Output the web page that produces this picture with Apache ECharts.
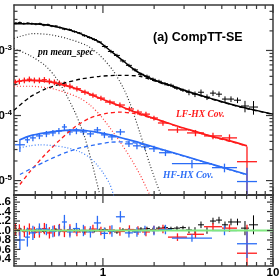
<!DOCTYPE html>
<html><head><meta charset="utf-8">
<script src="https://cdn.jsdelivr.net/npm/echarts@6/dist/echarts.min.js"></script>
<style>html,body{margin:0;padding:0;background:#fff}#c{width:280px;height:280px}</style>
</head><body><div id="c"></div>
<script>
// ---------- tick values ----------
const xMajorTicks = [1, 10];
const xMinorTicks = [0.4,0.5,0.6,0.7,0.8,0.9,2,3,4,5,6,7,8,9];
const yMajorTicks = [1e-5,1e-4,1e-3];
const yMinorTicks = [7e-6,8e-6,9e-6,2e-5,3e-5,4e-5,5e-5,6e-5,7e-5,8e-5,9e-5,2e-4,3e-4,4e-4,5e-4,6e-4,7e-4,8e-4,9e-4,2e-3,3e-3,4e-3];
const rMajorTicks = [0.4,0.6,0.8,1.0,1.2,1.4,1.6];
const rMinorTicks = [0.3,0.35,0.45,0.5,0.55,0.65,0.7,0.75,0.85,0.9,0.95,1.05,1.1,1.15,1.25,1.3,1.35,1.45,1.5,1.55,1.65,1.7];

// ---------- pn mean_spec (black) ----------
const blackEdges = [0.30,0.3162,0.3337,0.3524,0.3720,0.3927,0.4146,0.4377,0.4621,0.4878,0.5150,0.5436,0.5739,0.6141,0.6570,0.7031,0.7523,0.8052,0.8616,0.9220,0.9866,1.070,1.161,1.259,1.366,1.481,1.607,1.743,1.890,2.050,2.224,2.412,2.616,2.838,3.078,3.339,3.622,3.928,4.261,4.622,5.012,5.437,5.897,6.484,7.225,8.162];
const blackFlux = [2.63e-3,2.68e-3,2.58e-3,2.63e-3,2.58e-3,2.54e-3,2.58e-3,2.45e-3,2.49e-3,2.37e-3,2.37e-3,2.25e-3,2.13e-3,2.09e-3,1.95e-3,1.85e-3,1.69e-3,1.58e-3,1.47e-3,1.35e-3,1.15e-3,9.65e-4,8.39e-4,6.91e-4,5.90e-4,5.04e-4,4.30e-4,4.01e-4,3.61e-4,3.36e-4,3.08e-4,2.92e-4,2.63e-4,2.45e-4,2.28e-4,2.13e-4,2.28e-4,1.92e-4,2.21e-4,2.13e-4,1.79e-4,1.79e-4,1.72e-4,1.40e-4,1.35e-4];
const blackErr = [1.1e-4,1.1e-4,1.0e-4,1.0e-4,1.0e-4,1.0e-4,1.0e-4,1.0e-4,1.0e-4,9e-5,9e-5,9e-5,8e-5,8e-5,8e-5,7e-5,7e-5,6e-5,6e-5,5e-5,7e-5,6e-5,5e-5,4e-5,3.5e-5,3e-5,2.6e-5,2.4e-5,2.2e-5,2e-5,1.8e-5,1.8e-5,1.6e-5,1.5e-5,2.3e-5,2.1e-5,2.3e-5,1.9e-5,2.2e-5,2.1e-5,1.8e-5,1.8e-5,1.7e-5,2.8e-5,3.2e-5];
const blackRatio = [1.02,1.03,0.99,1.01,1.00,1.00,1.02,0.98,1.01,1.00,1.02,0.99,0.98,1.01,1.00,1.00,0.97,1.00,0.99,1.01,1.02,0.98,0.97,1.01,1.00,0.99,1.03,1.04,1.02,1.05,1.06,1.04,1.05,1.06,1.01,1.00,1.12,1.00,1.20,1.22,1.12,1.18,1.18,1.05,1.12];
const blackRatioErr = [0.03,0.03,0.03,0.03,0.03,0.03,0.03,0.03,0.03,0.03,0.03,0.03,0.03,0.03,0.03,0.03,0.03,0.03,0.03,0.03,0.04,0.04,0.04,0.04,0.04,0.04,0.04,0.04,0.04,0.04,0.04,0.04,0.04,0.04,0.07,0.07,0.07,0.07,0.07,0.07,0.07,0.07,0.07,0.15,0.2];
const blackTotal = [[0.30,2.58e-3],[0.372,2.58e-3],[0.456,2.49e-3],[0.559,2.25e-3],[0.684,1.95e-3],[0.839,1.58e-3],[0.960,1.33e-3],[1.10,1.0e-3],[1.26,7.55e-4],[1.44,5.70e-4],[1.65,4.46e-4],[2.02,3.48e-4],[2.48,2.92e-4],[3.25,2.28e-4],[4.26,1.85e-4],[5.59,1.50e-4],[7.32,1.26e-4],[10,1.05e-4]];
const blackComp = [[0.30,1.21e-4],[0.372,1.92e-4],[0.456,2.54e-4],[0.559,3.03e-4],[0.732,3.61e-4],[0.960,4.01e-4],[1.26,4.15e-4],[1.65,4.01e-4],[2.16,3.19e-4],[2.84,2.54e-4],[4.26,1.82e-4],[6.40,1.35e-4],[10,1.04e-4]];
const blackSoft1 = [[0.30,1.53e-3],[0.325,1.64e-3],[0.388,1.82e-3],[0.488,1.75e-3],[0.614,1.53e-3],[0.805,1.19e-3],[0.960,8.39e-4],[1.145,4.95e-4],[1.311,2.72e-4],[1.442,1.55e-4],[1.651,5.40e-5],[1.890,1.75e-5],[2.078,8.7e-6],[2.224,5.5e-6]];
const blackSoft2 = [[0.30,1.07e-3],[0.372,8.39e-4],[0.456,5.90e-4],[0.522,4.01e-4],[0.598,2.28e-4],[0.684,1.13e-4],[0.732,7.42e-5],[0.784,4.53e-5],[0.873,1.64e-5],[0.960,5.9e-6]];

// ---------- LF-HX Cov. (red) ----------
const redEdges = [0.30,0.3119,0.3337,0.3571,0.3823,0.4091,0.4377,0.4683,0.5012,0.5363,0.5739,0.6141,0.6661,0.7424,0.8274,0.9220,1.0275,1.1764,1.3468,1.5219,1.6960,1.890,2.1062,2.412,3.120,3.928,5.012,6.142,8.051];
const redFlux = [3.25e-4,3.36e-4,3.48e-4,3.61e-4,3.48e-4,3.48e-4,3.55e-4,3.36e-4,3.25e-4,3.14e-4,3.03e-4,2.82e-4,2.58e-4,2.28e-4,2.06e-4,1.85e-4,1.61e-4,1.45e-4,1.26e-4,1.13e-4,1.05e-4,9.16e-5,7.68e-5,6.01e-5,5.40e-5,4.86e-5,4.53e-5,1.95e-5];
const redErr = [3.3e-5,3.4e-5,3.5e-5,3.6e-5,3.5e-5,3.5e-5,3.5e-5,3.4e-5,3.2e-5,3.1e-5,3.0e-5,2.8e-5,2.3e-5,2.0e-5,1.8e-5,1.6e-5,1.4e-5,1.3e-5,1.1e-5,1.0e-5,9e-6,8e-6,7e-6,6e-6,6e-6,5.5e-6,6e-6,1.4e-5];
const redRatio = [1.02,1.01,0.98,1.03,0.96,0.97,1.04,0.95,0.99,1.02,0.98,1.01,0.97,1.00,1.03,0.99,1.01,0.98,1.02,1.00,0.97,1.01,1.03,0.86,0.92,1.08,1.05,0.52];
const redRatioErr = [0.12,0.12,0.12,0.12,0.12,0.12,0.12,0.12,0.12,0.12,0.12,0.12,0.09,0.09,0.09,0.09,0.09,0.09,0.09,0.09,0.09,0.09,0.09,0.08,0.08,0.08,0.08,0.6];
const redTotal = [[0.30,3.25e-4],[0.334,3.42e-4],[0.372,3.48e-4],[0.426,3.42e-4],[0.488,3.30e-4],[0.559,3.03e-4],[0.684,2.63e-4],[0.839,2.13e-4],[1.03,1.72e-4],[1.26,1.40e-4],[1.54,1.13e-4],[1.89,9.49e-5],[2.32,7.96e-5],[2.84,6.67e-5],[3.48,5.70e-5],[4.26,4.86e-5],[5.59,4.08e-5],[7.03,3.42e-5]];
const redComp = [[0.325,8.7e-6],[0.372,1.37e-5],[0.456,2.49e-5],[0.559,4.23e-5],[0.684,6.67e-5],[0.839,9.16e-5],[1.03,1.07e-4],[1.26,1.13e-4],[1.54,1.07e-4],[1.89,9.32e-5],[2.32,7.87e-5],[2.84,6.60e-5],[4.26,4.83e-5],[7.03,3.40e-5]];
const redSoft = [[0.30,2.82e-4],[0.372,2.82e-4],[0.488,2.63e-4],[0.598,2.28e-4],[0.732,1.85e-4],[0.839,1.45e-4],[0.960,1.02e-4],[1.10,6.45e-5],[1.26,3.94e-5],[1.44,2.32e-5],[1.65,1.24e-5],[1.82,7.3e-6],[1.92,5.5e-6]];

// ---------- HF-HX Cov. (blue) ----------
const blueEdges = [0.3037,0.3476,0.3720,0.4036,0.4437,0.4878,0.5291,0.5739,0.6141,0.6661,0.7323,0.8052,0.8852,0.9732,1.070,1.1926,1.3468,1.5014,1.6735,1.8646,2.1354,2.5453,4.3776,6.1416,8.0514];
const blueFlux = [3.55e-5,4.23e-5,4.53e-5,4.86e-5,5.22e-5,5.40e-5,5.80e-5,6.67e-5,5.60e-5,5.80e-5,5.60e-5,5.22e-5,6.01e-5,5.04e-5,4.70e-5,5.60e-5,3.67e-5,3.42e-5,3.30e-5,3.08e-5,2.68e-5,1.82e-5,1.58e-5,9.66e-6];
const blueErr = [8e-6,4.6e-6,5e-6,5.3e-6,5.7e-6,5.9e-6,6.4e-6,7.3e-6,6.2e-6,6.4e-6,6.2e-6,5.7e-6,6.6e-6,5.5e-6,5.2e-6,6.2e-6,4e-6,3.8e-6,3.6e-6,3.4e-6,3e-6,2.7e-6,2.4e-6,6.1e-6];
const blueRatio = [0.80,0.86,0.95,1.03,1.02,0.98,1.00,1.18,0.97,1.04,1.00,0.97,1.16,0.94,0.99,1.29,0.95,0.97,1.00,1.00,1.02,0.84,1.00,0.72];
const blueRatioErr = [0.21,0.2,0.15,0.12,0.12,0.12,0.12,0.15,0.12,0.12,0.12,0.12,0.15,0.12,0.12,0.12,0.1,0.1,0.1,0.1,0.1,0.08,0.1,0.3];
const blueTotal = [[0.325,4.23e-5],[0.372,4.86e-5],[0.456,5.40e-5],[0.559,5.80e-5],[0.703,6.01e-5],[0.897,5.60e-5],[1.10,5.04e-5],[1.35,4.38e-5],[1.65,3.80e-5],[2.16,3.08e-5],[3.12,2.32e-5],[4.88,1.64e-5],[7.03,1.24e-5]];
const blueComp = [[0.325,1.24e-5],[0.388,1.58e-5],[0.456,1.95e-5],[0.559,2.49e-5],[0.703,3.08e-5],[0.897,3.55e-5],[1.10,3.87e-5],[1.35,3.94e-5],[1.65,3.67e-5],[2.16,3.03e-5],[3.12,2.30e-5],[4.88,1.62e-5],[7.03,1.22e-5]];
const blueSoft = [[0.325,3.19e-5],[0.372,3.42e-5],[0.426,3.55e-5],[0.522,3.42e-5],[0.614,3.19e-5],[0.732,2.77e-5],[0.839,2.24e-5],[0.922,1.75e-5],[1.0,1.33e-5],[1.10,8.7e-6],[1.16,5.7e-6]];

const unityLine = [[0.3,1],[10,1]];

// ---------- colours ----------
const BLACK='#000000', GREY='#333333', RED='#ff1a1a', REDL='#ff3838', BLUE='#2b6cf6', BLUEL='#3f7ff8', GREEN='#80e880', FRAME='#3a3a3a';

function clamp(v,a,b){return Math.max(a,Math.min(b,v));}

function crossSeries(edges, vals, errs, color, lw, xi, yi, isLog) {
  return {
    type:'custom', xAxisIndex:xi, yAxisIndex:yi, silent:true, z:2, animation:false,
    data: vals.map((v,i)=>[edges[i], edges[i+1], v, errs[i]]),
    encode:{x:[0,1], y:2},
    renderItem:(params, api)=>{
      const cs=params.coordSys;
      const lo=api.value(0), hi=api.value(1), v=api.value(2), e=api.value(3);
      const a=api.coord([lo,v]), b=api.coord([hi,v]);
      const x1=clamp(a[0],cs.x,cs.x+cs.width), x2=clamp(b[0],cs.x,cs.x+cs.width);
      const xc=(a[0]+b[0])/2;
      const yTop=clamp(api.coord([lo,v+e])[1],cs.y,cs.y+cs.height);
      const lowV=v-e;
      let yBot=(isLog && lowV<=0)? cs.y+cs.height : api.coord([lo,lowV])[1];
      yBot=clamp(yBot,cs.y,cs.y+cs.height);
      const yc=a[1];
      const st={stroke:color, lineWidth:lw};
      const ch=[{type:'line',shape:{x1:xc,y1:yTop,x2:xc,y2:yBot},style:st}];
      if (yc>=cs.y && yc<=cs.y+cs.height) ch.push({type:'line',shape:{x1:x1,y1:yc,x2:x2,y2:yc},style:st});
      return {type:'group',children:ch};
    }
  };
}

function modelLine(data, color, type, width, xi, yi, z) {
  return {type:'line', xAxisIndex:xi, yAxisIndex:yi, data:data, symbol:'none', smooth:0.25, clip:true,
    silent:true, animation:false, z:z||3, lineStyle:{color:color, width:width, type:type}};
}

function tickSeries(values, dir, len, xi, yi, ref) {
  return {
    type:'custom', xAxisIndex:xi, yAxisIndex:yi, silent:true, z:6, animation:false,
    data: values.map(v => dir==='x' ? [v, ref] : [ref, v]),
    encode:{x:0, y:1},
    renderItem:(params, api)=>{
      const cs=params.coordSys;
      const p=api.coord([api.value(0), api.value(1)]);
      const st={stroke:FRAME, lineWidth:1.2};
      if (dir==='x') {
        return {type:'group',children:[
          {type:'line',shape:{x1:p[0],y1:cs.y,x2:p[0],y2:cs.y+len},style:st},
          {type:'line',shape:{x1:p[0],y1:cs.y+cs.height,x2:p[0],y2:cs.y+cs.height-len},style:st}]};
      }
      return {type:'group',children:[
        {type:'line',shape:{x1:cs.x,y1:p[1],x2:cs.x+len,y2:p[1]},style:st},
        {type:'line',shape:{x1:cs.x+cs.width,y1:p[1],x2:cs.x+cs.width-len,y2:p[1]},style:st}]};
    }
  };
}

const LBL = {fontFamily:'Liberation Sans', fontWeight:'bold', fontSize:11.5, color:'#000'};
function axisLineCfg(w){return {show:true, onZero:false, lineStyle:{color:FRAME, width:w}};}
const noTick={show:false};

const option = {
  animation:false,
  backgroundColor:'#ffffff',
  grid:[
    {left:14, top:5, right:7, height:190, containLabel:false, outerBoundsMode:'none'},
    {left:14, top:195, right:7, height:71, containLabel:false, outerBoundsMode:'none'}
  ],
  xAxis:[
    {gridIndex:0, type:'log', min:0.3, max:10, position:'bottom', axisLine:axisLineCfg(2), axisTick:noTick, axisLabel:{show:false}, splitLine:{show:false}},
    {gridIndex:0, type:'log', min:0.3, max:10, position:'top', axisLine:axisLineCfg(1.5), axisTick:noTick, axisLabel:{show:false}, splitLine:{show:false}},
    {gridIndex:1, type:'log', min:0.3, max:10, position:'bottom', axisLine:axisLineCfg(1.5), axisTick:noTick, splitLine:{show:false},
      axisLabel:Object.assign({show:true, margin:1, showMinLabel:true, showMaxLabel:true,
        formatter:(v)=>{const l=Math.log10(v); return (Math.abs(l-Math.round(l))<1e-6 && l>-0.5)? String(Math.round(v)) : '';}}, LBL)},
    {gridIndex:1, type:'log', min:0.3, max:10, position:'top', axisLine:axisLineCfg(2), axisTick:noTick, axisLabel:{show:false}, splitLine:{show:false}}
  ],
  yAxis:[
    {gridIndex:0, type:'log', min:6e-6, max:5e-3, position:'left', axisLine:axisLineCfg(1.5), axisTick:noTick, splitLine:{show:false},
      axisLabel:{show:true, margin:2,
        formatter:(v)=>{const l=Math.log10(v); if(Math.abs(l-Math.round(l))>1e-6) return ''; return '{b|10}{s|'+Math.round(l)+'}';},
        rich:{b:{fontFamily:'Liberation Sans', fontWeight:'bold', fontSize:11.5, color:'#000', lineHeight:14},
              s:{fontFamily:'Liberation Sans', fontWeight:'bold', fontSize:8, color:'#000', verticalAlign:'top', lineHeight:14}}}},
    {gridIndex:0, type:'log', min:6e-6, max:5e-3, position:'right', axisLine:axisLineCfg(1.5), axisTick:noTick, axisLabel:{show:false}, splitLine:{show:false}},
    {gridIndex:1, type:'value', min:0.25, max:1.75, splitNumber:7, position:'left', axisLine:axisLineCfg(1.5), axisTick:noTick, splitLine:{show:false},
      axisLabel:Object.assign({show:true, margin:3,
        formatter:(v)=> (Math.abs(v*5-Math.round(v*5))<1e-6) ? v.toFixed(1) : ''}, LBL)},
    {gridIndex:1, type:'value', min:0.25, max:1.75, splitNumber:7, position:'right', axisLine:axisLineCfg(1.5), axisTick:noTick, axisLabel:{show:false}, splitLine:{show:false}}
  ],
  graphic:[
    {type:'text', x:153, y:38, silent:true, z:10, style:{text:'(a) CompTT-SE', font:'bold 12.5px "Liberation Sans"', fill:'#000', align:'left', verticalAlign:'middle'}},
    {type:'text', x:38, y:53, silent:true, z:10, style:{text:'pn mean_spec', font:'italic bold 9.5px "Liberation Serif"', fill:'#000', align:'left', verticalAlign:'middle'}},
    {type:'text', x:176, y:115, silent:true, z:10, style:{text:'LF-HX Cov.', font:'italic bold 9.5px "Liberation Serif"', fill:RED, align:'left', verticalAlign:'middle'}},
    {type:'text', x:163, y:176, silent:true, z:10, style:{text:'HF-HX Cov.', font:'italic bold 9.5px "Liberation Serif"', fill:BLUE, align:'left', verticalAlign:'middle'}}
  ],
  series:[
    crossSeries(blackEdges, blackFlux, blackErr, BLACK, 1, 0, 0, true),
    crossSeries(redEdges, redFlux, redErr, RED, 1.3, 0, 0, true),
    crossSeries(blueEdges, blueFlux, blueErr, BLUE, 1.3, 0, 0, true),
    modelLine(blackSoft1, GREY, [1,2], 1.2, 0, 0),
    modelLine(blackSoft2, GREY, [1,2], 1.2, 0, 0),
    modelLine(blackComp, BLACK, [4,3], 1.3, 0, 0),
    modelLine(blackTotal, BLACK, 'solid', 1.5, 0, 0, 4),
    modelLine(redSoft, REDL, [1,2], 1.2, 0, 0),
    modelLine(redComp, RED, [4,3], 1.3, 0, 0),
    modelLine(redTotal, RED, 'solid', 1.7, 0, 0, 4),
    modelLine(blueSoft, BLUEL, [1,2], 1.2, 0, 0),
    modelLine(blueComp, BLUE, [4,3], 1.3, 0, 0),
    modelLine(blueTotal, BLUE, 'solid', 1.7, 0, 0, 4),
    crossSeries(blackEdges, blackRatio, blackRatioErr, BLACK, 1, 2, 2, false),
    crossSeries(redEdges, redRatio, redRatioErr, RED, 1.3, 2, 2, false),
    crossSeries(blueEdges, blueRatio, blueRatioErr, BLUE, 1.3, 2, 2, false),
    modelLine(unityLine, GREEN, 'solid', 2, 2, 2, 5),
    tickSeries(xMajorTicks, 'x', 8, 0, 0, 1e-4),
    tickSeries(xMinorTicks, 'x', 4, 0, 0, 1e-4),
    tickSeries(yMajorTicks, 'y', 7, 0, 0, 1),
    tickSeries(yMinorTicks, 'y', 3.5, 0, 0, 1),
    tickSeries(xMajorTicks, 'x', 8, 2, 2, 1),
    tickSeries(xMinorTicks, 'x', 4, 2, 2, 1),
    tickSeries(rMajorTicks, 'y', 6, 2, 2, 1),
    tickSeries(rMinorTicks, 'y', 3, 2, 2, 1)
  ]
};

const chart = echarts.init(document.getElementById('c'), null, {renderer:'canvas', width:280, height:280});
chart.setOption(option);
</script></body></html>
